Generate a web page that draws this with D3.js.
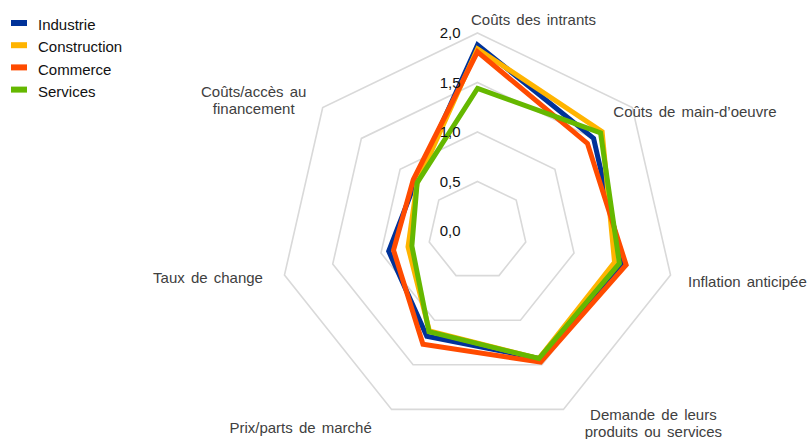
<!DOCTYPE html>
<html>
<head>
<meta charset="utf-8">
<script src="https://cdn.jsdelivr.net/npm/d3@7"></script>
<style>
  html, body { margin: 0; padding: 0; background: #fff; }
  svg { display: block; font-family: "Liberation Sans", Arial, sans-serif; }
</style>
</head>
<body>
<svg id="chart" width="808" height="439"></svg>
<script>
// Axes of the radar (clockwise from the top)
const categories = [
  ["Coûts des intrants"],
  ["Coûts de main-d’oeuvre"],
  ["Inflation anticipée"],
  ["Demande de leurs", "produits ou services"],
  ["Prix/parts de marché"],
  ["Taux de change"],
  ["Coûts/accès au", "financement"]
];

// Series, one value per axis
const seriesNames = ["Industrie", "Construction", "Commerce", "Services"];
const industrie    = [1.88, 1.50, 1.50, 1.43, 1.18, 0.92, 0.80];
const construction = [1.84, 1.61, 1.42, 1.43, 1.12, 0.72, 0.78];
const commerce     = [1.81, 1.42, 1.54, 1.47, 1.27, 0.87, 0.83];
const services     = [1.44, 1.59, 1.47, 1.43, 1.13, 0.68, 0.78];

// Radial tick values and their labels
const tickValues = [0, 0.5, 1.0, 1.5, 2.0];
const tickLabels = ["0,0", "0,5", "1,0", "1,5", "2,0"];

const colors = ["#003299", "#FFB400", "#FF4B00", "#65B800"];
const seriesValues = [industrie, construction, commerce, services];

const svg = d3.select("#chart");
const cx = 477.5, cy = 231;
const n = categories.length;
const angle = d3.scaleLinear().domain([0, n]).range([0, 2 * Math.PI]);
const r = d3.scaleLinear().domain([0, 2]).range([0, 198]);

const g = svg.append("g").attr("transform", `translate(${cx},${cy})`);

// Grid: heptagon rings at each tick above zero
const ring = d3.lineRadial()
  .angle((d, i) => angle(i))
  .radius(d => r(d))
  .curve(d3.curveLinearClosed);

g.append("g").selectAll("path")
  .data(tickValues.filter(v => v > 0))
  .join("path")
  .attr("d", v => ring(d3.range(n).map(() => v)))
  .attr("fill", "none")
  .attr("stroke", "#d9d9d9")
  .attr("stroke-width", 1.6);

// Series polygons
const line = d3.lineRadial()
  .angle((d, i) => angle(i))
  .radius(d => r(d))
  .curve(d3.curveLinearClosed);

g.append("g").selectAll("path")
  .data(seriesValues)
  .join("path")
  .attr("d", d => line(d))
  .attr("fill", "none")
  .attr("stroke", (d, i) => colors[i])
  .attr("stroke-width", 5)
  .attr("stroke-linejoin", "miter");

// Tick labels along the vertical axis
g.append("g").selectAll("text")
  .data(tickValues)
  .join("text")
  .attr("x", -17)
  .attr("y", v => -r(v))
  .attr("dy", "0.35em")
  .attr("text-anchor", "end")
  .attr("font-size", 15)
  .attr("fill", "#111")
  .text((v, i) => tickLabels[i]);

// Category labels, placed from each axis end point
const labelLayout = [
  { dx: -6.5, dy: -8, anchor: "start" },
  { dx: -19, dy: 9.4, anchor: "start" },
  { dx: 17.5, dy: 12, anchor: "start" },
  { dx: 90, dy: 10.6, anchor: "middle" },
  { dx: -91, dy: 23.6, anchor: "middle" },
  { dx: -21.5, dy: 8, anchor: "end" },
  { dx: -69, dy: -10.6, anchor: "middle" }
];

categories.forEach((lines, i) => {
  const a = angle(i);
  const px = Math.sin(a) * r(2), py = -Math.cos(a) * r(2);
  const L = labelLayout[i];
  const t = g.append("text")
    .attr("x", px + L.dx)
    .attr("y", py + L.dy)
    .attr("text-anchor", L.anchor)
    .attr("font-size", 15)
    .attr("word-spacing", 2)
    .attr("fill", "#404040");
  lines.forEach((s, k) => {
    t.append("tspan")
      .attr("x", px + L.dx)
      .attr("dy", k === 0 ? 0 : 17)
      .text(s);
  });
});

// Legend
const legend = svg.append("g").attr("transform", "translate(11,25)");
const rows = legend.selectAll("g")
  .data(seriesNames)
  .join("g")
  .attr("transform", (d, i) => `translate(0,${i * 22.2})`);
rows.append("rect")
  .attr("x", 0).attr("y", -5).attr("width", 16).attr("height", 6)
  .attr("fill", (d, i) => colors[i]);
rows.append("text")
  .attr("x", 27)
  .attr("y", 0)
  .attr("dy", "0.35em")
  .attr("font-size", 15)
  .attr("fill", "#111")
  .text(d => d);
</script>
</body>
</html>
